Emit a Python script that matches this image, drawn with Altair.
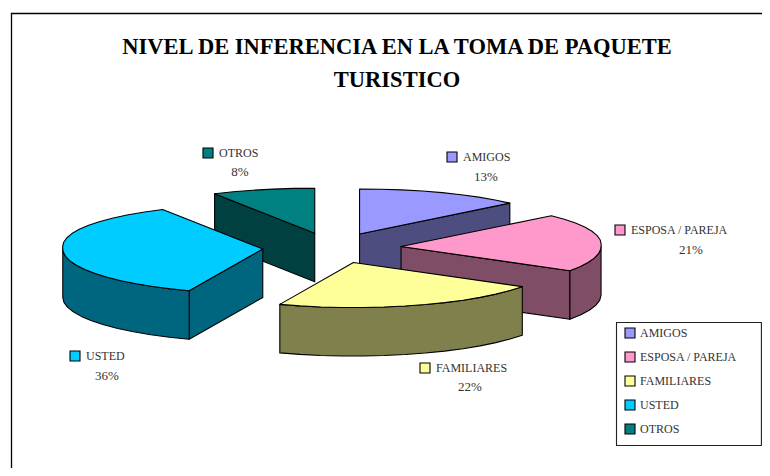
import math
import altair as alt

# ---- chart values ----
categories = ["AMIGOS", "ESPOSA / PAREJA", "FAMILIARES", "USTED", "OTROS"]
percent = [13, 21, 22, 36, 8]
top_colors = ["#9999FF", "#FF99CC", "#FFFF99", "#00CCFF", "#008080"]
side_colors = ["#4D4D80", "#804D66", "#80804D", "#006680", "#004040"]
title_lines = ["NIVEL DE INFERENCIA EN LA TOMA DE PAQUETE", "TURISTICO"]

# ---- layout (pixels inside the chart, page coordinate minus the 8px margin) ----
W, H = 754, 460
OX, OY = 8, 8
CX, CY = 332 - OX, 248 - OY
RX, RX_BACK, RY = 200, 9, 45
DEPTH = 48.5
EXPLODE = 0.34
EXPLODE_RX = 204
PAINT_ORDER = ["AMIGOS", "OTROS", "USTED", "ESPOSA / PAREJA", "FAMILIARES"]
LABELS = {
    "AMIGOS": (463, 157, 486, 177),
    "ESPOSA / PAREJA": (631, 230, 691, 250),
    "FAMILIARES": (436, 368, 470, 387),
    "USTED": (86, 356, 107, 376),
    "OTROS": (219, 153, 240, 172),
}
FONT = "Liberation Serif"
TEXT = "#333333"


def pt(ax, ay, th, dy=0.0):
    r = math.radians(th)
    rx = RX + RX_BACK * max(math.cos(r), 0)
    return [round(ax + rx * math.sin(r), 2), round(ay - RY * math.cos(r) + dy, 2)]


def feature(ring, fill):
    ring = ring + [ring[0]]
    return {
        "type": "Feature",
        "properties": {"fill": fill},
        "geometry": {"type": "Polygon", "coordinates": [ring]},
    }


def arange(a, b, step=6.0):
    n = max(1, int(round((b - a) / step)))
    return [a + (b - a) * i / n for i in range(n + 1)]


# slice geometry from the percentages
slices = {}
cum = 0.0
for name, pct, top, side in zip(categories, percent, top_colors, side_colors):
    a0 = cum * 3.6
    a1 = (cum + pct) * 3.6
    cum += pct
    mid = math.radians((a0 + a1) / 2)
    ax = CX + EXPLODE * EXPLODE_RX * math.sin(mid)
    ay = CY - EXPLODE * RY * math.cos(mid)
    slices[name] = (a0, a1, ax, ay, top, side)

features = []
for name in PAINT_ORDER:
    a0, a1, ax, ay, top, side = slices[name]
    apex = [round(ax, 2), round(ay, 2)]
    apex_low = [round(ax, 2), round(ay + DEPTH, 2)]
    if math.sin(math.radians(a0)) < -1e-6:
        features.append(feature([apex, pt(ax, ay, a0), pt(ax, ay, a0, DEPTH), apex_low], side))
    if math.sin(math.radians(a1)) > 1e-6:
        features.append(feature([apex, pt(ax, ay, a1), pt(ax, ay, a1, DEPTH), apex_low], side))
    lo, hi = max(a0, 90), min(a1, 270)
    if hi > lo:
        angles = arange(lo, hi)
        ring = [pt(ax, ay, t) for t in angles] + [pt(ax, ay, t, DEPTH) for t in reversed(angles)]
        features.append(feature(ring, side))
    features.append(feature([apex] + [pt(ax, ay, t) for t in arange(a0, a1)], top))

# outer frame runs off the picture on the right and at the bottom
frame = feature([[3.5, 5.5], [800, 5.5], [800, 500], [3.5, 500]], "none")
legend_box = feature([[608.5, 314.5], [753.4, 314.5], [753.4, 437.5], [608.5, 437.5]], "none")

PROJ = dict(type="identity", scale=1, translate=[0, 0])

frame_layer = (
    alt.Chart(alt.Data(values=[frame]))
    .mark_geoshape(fill="white", stroke="black", strokeWidth=1.3)
    .project(**PROJ)
)
box_layer = (
    alt.Chart(alt.Data(values=[legend_box]))
    .mark_geoshape(fill="white", stroke="#222222", strokeWidth=1.1)
    .project(**PROJ)
)
pie_layer = (
    alt.Chart(alt.Data(values=features))
    .mark_geoshape(stroke="black", strokeWidth=1.1, strokeJoin="round")
    .encode(fill=alt.Fill("properties.fill:N", scale=None, legend=None))
    .project(**PROJ)
)

# label keys: small squares, also the source of the legend
keys = []
for name in categories:
    tx, ty, _, _ = LABELS[name]
    x0, y0 = tx - OX - 16, ty - OY - 5
    ring = [[x0, y0], [x0 + 10, y0], [x0 + 10, y0 + 10], [x0, y0 + 10], [x0, y0]]
    keys.append({"type": "Feature", "properties": {"name": name},
                 "geometry": {"type": "Polygon", "coordinates": [ring]}})

key_layer = (
    alt.Chart(alt.Data(values=keys))
    .mark_geoshape(stroke="black", strokeWidth=1.1)
    .encode(
        color=alt.Color(
            "properties.name:N",
            scale=alt.Scale(domain=categories, range=top_colors),
            legend=alt.Legend(
                orient="none",
                legendX=618 - OX,
                legendY=321 - OY,
                title=None,
                symbolType="square",
                symbolSize=100,
                symbolStrokeColor="black",
                symbolStrokeWidth=1.1,
                symbolOpacity=1,
                labelFont=FONT,
                labelFontSize=12,
                labelColor=TEXT,
                labelOffset=4,
                labelLimit=140,
                rowPadding=8,
                padding=6,
                zindex=1,
            ),
        )
    )
    .project(**PROJ)
)

text_layers = []
for name, pct in zip(categories, percent):
    tx, ty, px, py = LABELS[name]
    text_layers.append(
        alt.Chart(alt.Data(values=[{"t": name}]))
        .mark_text(font=FONT, fontSize=12, color=TEXT, align="left", baseline="middle")
        .encode(text="t:N", x=alt.value(tx - OX), y=alt.value(ty - OY))
    )
    text_layers.append(
        alt.Chart(alt.Data(values=[{"t": f"{pct}%"}]))
        .mark_text(font=FONT, fontSize=13, color=TEXT, align="center", baseline="middle")
        .encode(text="t:N", x=alt.value(px - OX), y=alt.value(py - OY))
    )

title_layers = []
for line, y in zip(title_lines, [47, 80]):
    title_layers.append(
        alt.Chart(alt.Data(values=[{"t": line}]))
        .mark_text(font=FONT, fontSize=22.5, fontWeight="bold", color="black", align="center", baseline="middle")
        .encode(text="t:N", x=alt.value(397 - OX), y=alt.value(y - OY))
    )

chart = (
    alt.layer(frame_layer, box_layer, pie_layer, key_layer, *text_layers, *title_layers)
    .properties(width=W, height=H, padding=0, autosize=alt.AutoSizeParams(type="none"))
    .configure_view(stroke=None)
)

chart.save("out.html", embed_options={"renderer": "svg", "actions": False})
